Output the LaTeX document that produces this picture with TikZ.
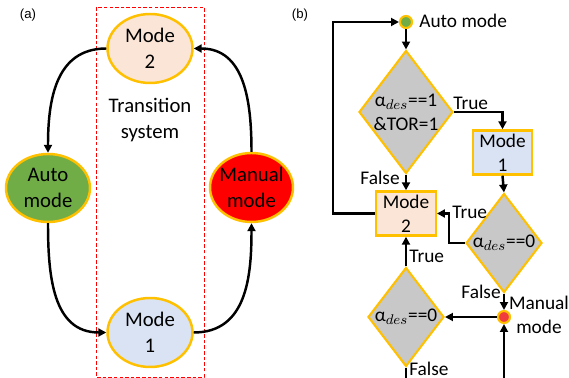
\documentclass[tikz,border=0pt]{standalone}
\usepackage{fontspec}
\setmainfont{Carlito}
\newfontfamily\labfont{Liberation Sans}
\usepackage{tikz}
\usetikzlibrary{shapes.geometric}
\usetikzlibrary{arrows.meta}
\definecolor{gold}{HTML}{FFC000}
\definecolor{peach}{HTML}{FBE5D6}
\definecolor{paleblue}{HTML}{DAE3F3}
\definecolor{leaf}{HTML}{70AD47}
\definecolor{dotred}{HTML}{F03C3C}
\definecolor{rhomb}{HTML}{C8C8C8}

\begin{document}
\begin{tikzpicture}[x=0.02cm, y=-0.02cm,
	stateell/.style={ellipse, draw=gold, line width=1.4pt, inner sep=0pt, minimum width=1.7cm, minimum height=1.38cm},
	modebox/.style={rectangle, draw=gold, line width=1.4pt, inner sep=0pt, minimum width=1.19cm, minimum height=0.88cm},
	testdia/.style={diamond, draw=gold, fill=rhomb, line width=1.2pt, inner sep=0pt},
	statedot/.style={circle, draw=gold, line width=1.2pt, inner sep=0pt, minimum size=0.24cm},
	flow/.style={line width=1.4pt, -{Triangle[length=4.5pt,width=4.5pt]}},
	txta/.style={font=\fontsize{11.8}{14.8}\selectfont, align=center},
	txtb/.style={font=\fontsize{11}{13.7}\selectfont, align=center},
	tag/.style={font=\fontsize{11}{13}\selectfont, inner sep=0pt}]
	\useasboundingbox (0,0) rectangle (569,378);

	\node[font=\labfont\fontsize{7.5}{9}\selectfont] (taga) at (28,15) {(a)};
	\node[font=\labfont\fontsize{7.5}{9}\selectfont] (tagb) at (300,15) {(b)};

	\draw[red, line width=0.5pt, dash pattern=on 2pt off 1.2pt] (96,7) rectangle (204,377);
	\node[txta] (trans) at (150,120) {Transition\\system};

	\node[stateell, fill=peach, label={[txta]center:Mode\\2}] (m2) at (150,48.5) {};
	\node[stateell, fill=leaf, minimum width=1.68cm, minimum height=1.36cm, label={[txta]center:Auto\\mode}] (auto) at (48,188) {};
	\node[stateell, fill=red, minimum width=1.66cm, label={[txta]center:Manual\\mode}] (man) at (251.5,187.5) {};
	\node[stateell, fill=paleblue, label={[txta]center:Mode\\1}] (m1) at (150,332.5) {};

	\draw[flow] (m2.west) to[out=180, in=90, looseness=1.1] (auto.north);
	\draw[flow] (auto.south) to[out=-90, in=180, looseness=1.1] (m1.west);
	\draw[flow] (m1.east) to[out=0, in=-90, looseness=1.1] (man.south);
	\draw[flow] (man.north) to[out=90, in=0, looseness=1.1] (m2.east);

	\node[statedot, fill=leaf] (adot) at (406,22) {};
	\node[txtb, anchor=west, inner sep=0pt] (atxt) at (419,21) {Auto mode};
	\node[testdia, minimum width=1.88cm, minimum height=2.46cm, label={[txtb]center:α$_{des}$==1\\\&TOR=1}] (d1) at (406,112) {};
	\node[modebox, fill=paleblue, label={[txtb]center:Mode\\1}] (b1) at (502.5,152.5) {};
	\node[modebox, fill=peach, label={[txtb]center:Mode\\2}] (b2) at (406,213.5) {};
	\node[testdia, minimum width=1.52cm, minimum height=1.98cm, label={[txtb]center:α$_{des}$==0}] (d3) at (504,243) {};
	\node[statedot, fill=dotred] (mdot) at (504,317) {};
	\node[txtb, inner sep=0pt] (mtxt) at (539,315) {Manual\\mode};
	\node[testdia, minimum width=1.52cm, minimum height=1.98cm, label={[txtb]center:α$_{des}$==0}] (d4) at (406,317) {};
	\coordinate (loopl) at (333,213.5);
	\coordinate (endl) at (406,378);
	\coordinate (endr) at (504,378);

	\draw[flow] (adot.south) -- (d1.north);
	\draw[flow] (d1.east) -| (b1.north);
	\draw[flow] (b1.south) -- (d3.north);
	\draw[flow] (d1.south) -- (b2.north);
	\draw[flow] (b2.west) -- (loopl) |- (adot.west);
	\draw[flow] (d3.west) -- ++(-16,0) |- (b2.east);
	\draw[flow] (d3.south) -- (mdot.north);
	\draw[flow] (mdot.west) -- (d4.east);
	\draw[flow] (d4.north) -- (b2.south);
	\draw[line width=1.4pt] (d4.south) -- (endl);
	\draw[flow] (endr) -- (mdot.south);

	\node[tag, anchor=south west] (t1) at (453,110) {True};
	\node[tag, anchor=east] (f1) at (400,178) {False};
	\node[tag, anchor=west] (t3) at (452,212) {True};
	\node[tag, anchor=east] (f3) at (501,292) {False};
	\node[tag, anchor=west] (t4) at (409,256) {True};
	\node[tag, anchor=west] (f4) at (409,369) {False};
\end{tikzpicture}
\end{document}
